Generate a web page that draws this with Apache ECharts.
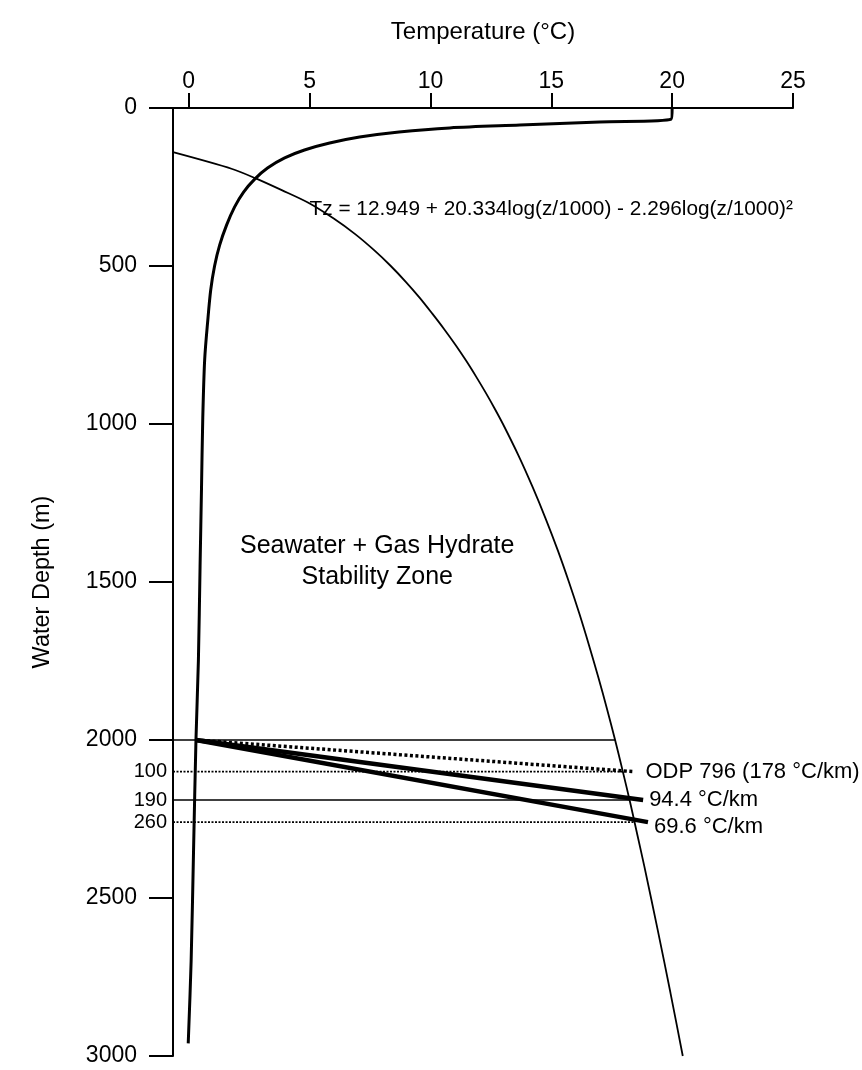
<!DOCTYPE html>
<html>
<head>
<meta charset="utf-8">
<script src="https://cdn.jsdelivr.net/npm/echarts@6/dist/echarts.min.js"></script>
<style>
html,body{margin:0;padding:0;background:#fff;}
#chart{width:862px;height:1070px;}
</style>
</head>
<body>
<div id="chart"></div>
<script>
// ---- data ----
const tempTicks = [0, 5, 10, 15, 20, 25];
const depthTicks = [0, 500, 1000, 1500, 2000, 2500, 3000];
const tempMin = -0.65, tempMax = 25, depthMin = 0, depthMax = 3000;

// seawater temperature profile (°C, m)
const seawaterTemp  = [20, 19.96, 17.0, 13.7, 10.8, 8.7, 7.07, 5.83, 4.79, 3.97, 3.26, 2.73, 2.27, 1.9, 1.57, 1.28, 1.07, 0.91, 0.79, 0.66, 0.58, 0.53, 0.47, 0.4, 0.3, 0.2, 0.1, -0.02];
const seawaterDepth = [0, 35, 44, 54, 63, 76, 92, 111, 133, 158, 190, 225, 266, 313, 370, 434, 500, 576, 671, 797, 987, 1200, 1450, 1750, 2000, 2350, 2700, 2960];

// gas hydrate stability boundary (°C, m)
const hydrateTemp  = [-0.65, 1.8, 2.75, 3.85, 4.95, 6.0, 6.9, 7.67, 8.36, 8.98, 9.55, 10.07, 10.57, 11.04, 11.48, 11.89, 12.28, 12.65, 13.0, 13.645, 14.23, 14.77, 15.27, 15.73, 16.16, 16.56, 16.94, 17.3, 17.64, 17.96, 18.27, 18.56, 18.85, 19.4, 19.93, 20.44];
const hydrateDepth = [140, 193, 222, 260, 300, 350, 400, 450, 500, 550, 600, 650, 700, 750, 800, 850, 900, 950, 1000, 1100, 1200, 1300, 1400, 1500, 1600, 1700, 1800, 1900, 2000, 2100, 2200, 2300, 2400, 2600, 2800, 3000];

// seafloor and base-of-hydrate depths
const seafloorDepth = 2000, seafloorTemp = 0.3, seafloorLineEnd = 17.64;
const bsrDepths  = [2100, 2190, 2260];
const bsrLabels  = ['100', '190', '260'];
const bsrLineEnd = [17.96, 18.24, 18.44];

// geothermal gradients
const gradientNames    = ['ODP 796 (178 °C/km)', '94.4 °C/km', '69.6 °C/km'];
const gradientEndTemp  = [18.4, 18.8, 19.0];
const gradientEndDepth = [2100, 2190, 2260];

const equationText = 'Tz = 12.949 + 20.334log(z/1000) - 2.296log(z/1000)²';
const zoneText = 'Seawater + Gas Hydrate\nStability Zone';

// ---- chart ----
const FONT = 'Liberation Sans, Arial, sans-serif';
const chart = echarts.init(document.getElementById('chart'), null, {renderer: 'canvas'});

function pairs(xs, ys) { return xs.map((x, i) => [x, ys[i]]); }
const txt = (extra) => Object.assign({show: true, color: '#000', fontFamily: FONT, textBorderWidth: 0}, extra);

const series = [];
series.push({
  type: 'line', name: 'seawater', data: pairs(seawaterTemp, seawaterDepth),
  showSymbol: false, smooth: 0.3,
  lineStyle: {color: '#000', width: 3}
});
series.push({
  type: 'line', name: 'hydrate', data: pairs(hydrateTemp, hydrateDepth),
  showSymbol: false, smooth: 0.3,
  lineStyle: {color: '#000', width: 1.8}
});
series.push({
  type: 'line', data: [[tempMin, seafloorDepth], [seafloorLineEnd, seafloorDepth]],
  showSymbol: false, lineStyle: {color: '#000', width: 1.6}
});
bsrDepths.forEach((d, i) => {
  series.push({
    type: 'line', data: [[tempMin, d], [bsrLineEnd[i], d]],
    showSymbol: false,
    lineStyle: {color: '#000', width: i === 1 ? 1.6 : 1.6, type: i === 1 ? 'solid' : [2, 1.5]}
  });
});
gradientNames.forEach((n, i) => {
  series.push({
    type: 'line', name: n,
    data: [[seafloorTemp, seafloorDepth], [gradientEndTemp[i], gradientEndDepth[i]]],
    showSymbol: false,
    lineStyle: {color: '#000', width: i === 0 ? 3.5 : 4.5, type: i === 0 ? [3, 2.5] : 'solid'},
    endLabel: txt({formatter: n, fontSize: 22, distance: i === 0 ? 12 : 6, offset: i === 2 ? [0, 5] : [0, 0]})
  });
});
// BSR labels at the left axis
series.push({
  type: 'scatter', symbolSize: 0, silent: true, itemStyle: {opacity: 1},
  data: bsrDepths.map((d, i) => ({value: [tempMin, d],
    label: txt({formatter: bsrLabels[i], position: 'left', distance: 6, fontSize: 20})}))
});
// text annotations
series.push({
  type: 'scatter', symbolSize: 0, silent: true, itemStyle: {opacity: 1},
  data: [
    {value: [5.0, 322], label: txt({formatter: equationText, position: 'right', distance: 0, fontSize: 20.8})},
    {value: [7.8, 1437], label: txt({formatter: zoneText, position: 'inside', fontSize: 25, lineHeight: 31, align: 'center'})}
  ]
});

chart.setOption({
  animation: false,
  backgroundColor: '#fff',
  grid: {left: 173, top: 108, width: 620, height: 948, containLabel: false},
  xAxis: {
    type: 'value', position: 'top', min: tempMin, max: tempMax,
    name: 'Temperature (°C)', nameLocation: 'middle', nameGap: 64,
    nameTextStyle: {color: '#000', fontFamily: FONT, fontSize: 24},
    axisLine: {show: true, onZero: false, lineStyle: {color: '#000', width: 2}},
    axisTick: {show: true, customValues: tempTicks, length: 15, lineStyle: {color: '#000', width: 2}},
    axisLabel: {customValues: tempTicks, color: '#000', fontFamily: FONT, fontSize: 23, margin: 15},
    splitLine: {show: false}
  },
  yAxis: {
    type: 'value', inverse: true, min: depthMin, max: depthMax,
    name: 'Water Depth (m)', nameLocation: 'middle', nameGap: 118,
    nameTextStyle: {color: '#000', fontFamily: FONT, fontSize: 23.5},
    axisLine: {show: true, onZero: false, lineStyle: {color: '#000', width: 2}},
    axisTick: {show: true, customValues: depthTicks, length: 24, lineStyle: {color: '#000', width: 2}},
    axisLabel: {customValues: depthTicks, color: '#000', fontFamily: FONT, fontSize: 23, margin: 36,
                formatter: v => String(v)},
    splitLine: {show: false}
  },
  series: series
});
</script>
</body>
</html>
